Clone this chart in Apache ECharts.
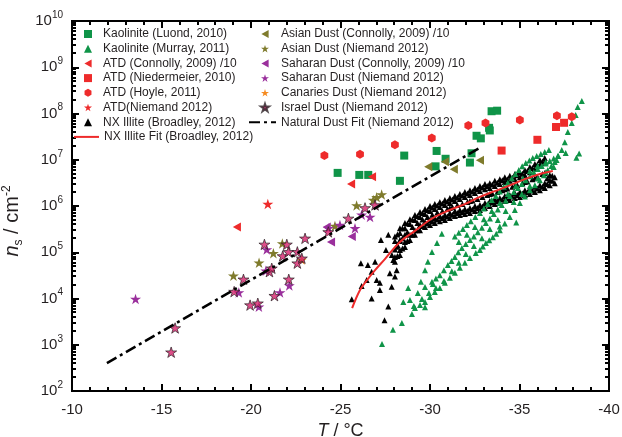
<!DOCTYPE html>
<html><head><meta charset="utf-8">
<script src="https://cdn.jsdelivr.net/npm/echarts@6/dist/echarts.min.js"></script>
<style>html,body{margin:0;padding:0;background:#fff}#wrap{position:relative;width:622px;height:437px}#axes,#plot{position:absolute;left:0;top:0;width:622px;height:437px}</style>
</head><body><div id="wrap"><div id="axes"></div><div id="plot"></div></div>
<script>
// ---------- data: [T (°C), ns (cm^-2)] ----------
const kaoliniteLuond = [[-24.84,5.2e6],[-26.05,4.7e6],[-26.55,4.7e6],[-28.32,3.5e6],[-28.56,1.23e7],[-30.37,1.55e7],[-30.31,7.2e6],[-30.87,1.05e7],[-32.23,8.7e6],[-32.32,1.38e7],[-32.60,3.3e7],[-32.84,2.9e7],[-33.30,4.9e7],[-33.34,4.3e7],[-33.44,1.12e8],[-33.75,1.15e8]];
const kaoliniteMurray = [
 [-27.32,1.04e3],[-27.93,2.1e3],[-28.43,2.95e3],[-28.99,4.6e3],[-29.44,7.2e3],[-30.00,1.08e4],[-30.55,1.69e4],[-31.11,2.8e4],[-31.67,4.6e4],[-32.23,7.5e4],[-32.79,1.12e5],[-33.12,1.58e5],[-33.51,2.1e5],[-33.90,3.0e5],[-34.46,5.8e5],[-35.02,1.16e6],[-35.58,2.2e6],[-36.14,3.6e6],[-36.58,6.0e6],[-36.97,8.9e6],[-37.36,1.63e7],[-37.53,2.4e7],[-37.70,4.0e7],[-37.92,6.2e7],[-38.14,9.3e7],[-38.25,1.38e8],[-38.48,1.86e8],
 [-29.16,6.2e3],[-29.72,8.4e3],[-30.27,1.38e4],[-30.83,2.2e4],[-31.39,3.6e4],[-31.95,5.9e4],[-32.56,9.6e4],
 [-32.95,1.33e5],[-33.31,1.82e5],[-33.70,2.5e5],[-34.18,4.2e5],[-34.74,8.2e5],[-35.30,1.6e6],[-35.86,2.8e6],[-36.36,4.6e6],[-36.78,7.3e6],[-37.17,1.2e7],
 [-28.88,9.3e3],[-29.32,1.32e4],[-29.72,1.77e4],[-30.11,2.3e4],[-30.55,3.2e4],[-31.00,5.3e4],[-31.39,7.9e4],[-31.78,1.24e5],[-32.23,1.84e5],[-32.67,2.7e5],[-33.12,4.3e5],[-33.57,6.7e5],[-34.01,1.05e6],[-34.46,1.64e6],[-34.91,2.45e6],[-35.35,3.6e6],[-35.80,5.4e6],[-36.24,7.3e6],[-36.69,9.4e6],[-37.14,1.21e7],[-37.58,1.40e7],
 [-30.33,2.7e4],[-30.78,4.1e4],[-31.20,6.5e4],[-31.58,1.0e5],[-32.00,1.5e5],[-32.45,2.2e5],[-32.90,3.4e5],[-33.35,5.4e5],[-33.79,8.4e5],[-34.23,1.3e6],[-34.68,2.0e6],[-35.13,3.0e6],[-35.58,4.4e6],[-36.02,6.3e6],[-36.47,8.3e6],[-36.91,1.07e7],
 [-29.10,6.9e3],[-29.55,9.7e3],[-29.94,1.32e4],[-30.33,1.69e4],[-30.78,2.4e4],[-31.22,3.9e4],[-31.61,5.9e4],[-32.00,9.2e4],[-32.45,1.36e5],[-32.90,2.0e5],[-33.34,3.2e5],[-33.79,5.0e5],[-34.23,7.8e5],[-34.68,1.22e6],[-35.13,1.82e6],[-35.58,2.7e6],[-36.02,4.0e6],[-36.47,5.4e6],[-36.91,7.0e6],
 [-29.49,2.3e4],[-29.72,4.1e4],[-29.88,6.2e4],[-30.11,1.01e5],[-30.39,1.58e5],[-30.66,2.5e5],
 [-31.39,2.2e5],[-31.84,3.2e5],[-32.28,4.7e5],[-32.79,7.1e5],[-33.23,1.10e6],[-33.68,1.64e6],[-34.12,2.6e6],[-34.57,4.0e6],[-34.96,6.0e6],[-35.35,8.5e6],[-35.74,1.09e7],[-36.19,1.33e7],[-36.64,1.63e7],
 [-31.61,2.65e5],[-32.06,3.9e5],[-32.53,5.8e5],[-33.01,8.8e5],[-33.45,1.34e6],[-33.90,2.05e6],[-34.35,3.2e6],[-34.77,4.9e6],[-35.15,7.2e6],[-35.55,9.6e6],[-35.96,1.2e7],[-36.41,1.47e7],
 [-31.61,1.67e5],[-32.06,2.4e5],[-32.51,3.5e5],[-33.01,5.2e5],[-33.45,7.8e5],[-33.90,1.16e6],[-34.35,1.82e6],[-34.79,2.7e6],[-35.19,4.0e6],[-35.58,5.7e6],[-36.02,7.3e6],[-36.47,8.9e6],
 [-28.51,8.4e3],[-28.78,1.69e4],[-30.16,2.05e4],[-29.72,6.5e3],[-33.90,3.6e5],[-34.82,4.4e5],[-37.07,9.9e6],[-38.33,1.36e7],[-38.18,1.10e7]
];
const atdConnolly = [[-19.21,3.5e5],[-25.59,3.0e6],[-26.76,4.3e6]];
const atdNiedermeier = [[-34.00,1.58e7],[-36.00,2.7e7],[-37.04,5.1e7],[-37.49,6.3e7]];
const atdHoyle = [[-24.10,1.23e7],[-26.09,1.32e7],[-28.04,2.1e7],[-30.10,2.95e7],[-32.14,5.5e7],[-33.10,6.2e7],[-35.02,7.2e7],[-37.09,8.9e7],[-37.92,8.5e7]];
const atdNiemand = [[-20.94,1.1e6]];
const nxIllite = [
 [-25.63,9.6e3],[-26.14,5.8e4],[-26.18,1.86e4],[-26.46,2.5e4],[-26.74,3.8e4],[-26.74,1.0e4],[-27.02,2.5e4],[-27.20,1.53e4],[-27.20,2.2e4],[-27.26,1.84e5],[-27.46,3.4e3],[-27.67,6.7e3],[-27.67,2.4e5],[-27.76,3.5e4],[-27.86,1.8e4],[-27.95,6.8e4],[-28.04,3.0e4],[-28.14,1.32e5],[-28.14,4.1e4],[-28.32,1.84e5],[-27.54,1.12e5],[-26.93,6.2e4],[-26.53,5.3e4],[-27.87,8.7e4],
 [-28.04,2.2e5],[-28.04,1.75e5],[-28.04,7.9e4],[-28.04,6.2e4],
 [-28.32,3.3e5],[-28.32,2.6e5],[-28.32,1.12e5],[-28.32,8.7e4],
 [-28.60,4.3e5],[-28.60,3.3e5],[-28.60,1.67e5],[-28.60,1.30e5],
 [-28.88,5.2e5],[-28.88,4.1e5],[-28.88,2.4e5],[-28.88,1.84e5],
 [-29.16,6.4e5],[-29.16,5.0e5],[-29.16,3.0e5],[-29.16,2.4e5],
 [-29.44,7.4e5],[-29.44,5.8e5],[-29.44,3.9e5],[-29.44,3.0e5],
 [-29.72,8.6e5],[-29.72,6.7e5],[-29.72,4.5e5],[-29.72,3.5e5],
 [-30.00,1.0e6],[-30.00,7.8e5],[-30.00,5.0e5],[-30.00,3.9e5],
 [-30.27,1.10e6],[-30.27,8.6e5],[-30.27,5.5e5],[-30.27,4.3e5],
 [-30.55,1.22e6],[-30.55,9.5e5],[-30.55,6.1e5],[-30.55,4.7e5],
 [-30.83,1.35e6],[-30.83,1.05e6],[-30.83,6.4e5],[-30.83,5.0e5],
 [-31.11,1.49e6],[-31.11,1.16e6],[-31.11,7.1e5],[-31.11,5.5e5],
 [-31.39,1.64e6],[-31.39,1.28e6],[-31.39,7.8e5],[-31.39,6.1e5],
 [-31.67,1.82e6],[-31.67,1.42e6],[-31.67,8.2e5],[-31.67,6.4e5],
 [-31.95,2.0e6],[-31.95,1.57e6],[-31.95,8.6e5],[-31.95,6.7e5],
 [-32.23,2.2e6],[-32.23,1.73e6],[-32.23,9.1e5],[-32.23,7.1e5],
 [-32.51,2.45e6],[-32.51,1.91e6],[-32.51,1.0e6],[-32.51,7.8e5],
 [-32.79,2.7e6],[-32.79,2.1e6],[-32.79,1.05e6],[-32.79,8.2e5],
 [-33.07,3.0e6],[-33.07,2.3e6],[-33.07,1.16e6],[-33.07,9.1e5],
 [-33.34,3.1e6],[-33.34,2.45e6],[-33.34,1.28e6],[-33.34,1.0e6],
 [-33.62,3.5e6],[-33.62,2.7e6],[-33.62,1.42e6],[-33.62,1.10e6],
 [-33.90,3.8e6],[-33.90,3.0e6],[-33.90,1.49e6],[-33.90,1.16e6],
 [-34.18,4.2e6],[-34.18,3.3e6],[-34.18,1.64e6],[-34.18,1.28e6],
 [-34.46,4.5e6],[-34.46,3.5e6],[-34.46,1.73e6],[-34.46,1.35e6],
 [-34.74,4.9e6],[-34.74,3.8e6],[-34.74,1.91e6],[-34.74,1.49e6],
 [-35.02,5.4e6],[-35.02,4.2e6],[-35.02,2.0e6],[-35.02,1.57e6],
 [-35.30,6.0e6],[-35.30,4.7e6],[-35.30,2.2e6],[-35.30,1.73e6],
 [-35.58,7.0e6],[-35.58,5.4e6],[-35.58,2.3e6],[-35.58,1.82e6],
 [-35.86,8.1e6],[-35.86,6.3e6],[-35.86,2.6e6],[-35.86,2.0e6],
 [-36.14,9.9e6],[-36.14,7.7e6],[-36.14,2.8e6],[-36.14,2.2e6],
 [-36.41,1.09e7],[-36.41,8.5e6],[-36.41,3.1e6],[-36.41,2.45e6],
 [-36.69,4.7e6],[-36.69,3.6e6],[-36.69,2.8e6],
 [-36.97,4.2e6],[-36.97,3.1e6],
 [-28.04,1.15e5],[-28.32,1.75e5],[-28.60,2.4e5],[-31.11,9.1e5],[-32.23,1.28e6],[-33.34,1.82e6],[-34.18,2.3e6],[-34.74,2.7e6],[-35.30,3.3e6],[-35.86,4.0e6],[-36.41,5.2e6],
 [-28.18,2.42e5],[-28.18,1.44e5],[-28.18,8.3e4],
 [-28.46,3.3e5],[-28.46,2.0e5],[-28.46,1.21e5],
 [-28.74,4.2e5],[-28.74,2.7e5],[-28.74,1.75e5],
 [-29.02,5.1e5],[-29.02,3.5e5],[-29.02,2.4e5],
 [-29.30,6.1e5],[-29.30,4.3e5],[-29.30,3.0e5],
 [-29.58,7.1e5],[-29.58,5.1e5],[-29.58,3.7e5],
 [-29.86,8.2e5],[-29.86,5.8e5],[-29.86,4.2e5],
 [-30.13,9.3e5],[-30.13,6.5e5],[-30.13,4.6e5],
 [-30.41,1.03e6],[-30.41,7.2e5],[-30.41,5.1e5],
 [-30.69,1.13e6],[-30.69,7.8e5],[-30.69,5.5e5],
 [-30.97,1.25e6],[-30.97,8.6e5],[-30.97,5.9e5],
 [-31.25,1.38e6],[-31.25,9.5e5],[-31.25,6.5e5],
 [-31.53,1.53e6],[-31.53,1.05e6],[-31.53,7.1e5],
 [-31.81,1.69e6],[-31.81,1.10e6],[-31.81,7.4e5],
 [-32.09,1.86e6],[-32.09,1.22e6],[-32.09,7.8e5],
 [-32.37,2.06e6],[-32.37,1.32e6],[-32.37,8.4e5],
 [-32.65,2.27e6],[-32.65,1.42e6],[-32.65,9.1e5],
 [-32.93,2.51e6],[-32.93,1.57e6],[-32.93,9.8e5],
 [-33.20,2.7e6],[-33.20,1.73e6],[-33.20,1.08e6],
 [-33.48,2.9e6],[-33.48,1.86e6],[-33.48,1.19e6],
 [-33.76,3.2e6],[-33.76,2.0e6],[-33.76,1.28e6],
 [-34.04,3.6e6],[-34.04,2.2e6],[-34.04,1.38e6],
 [-34.32,3.8e6],[-34.32,2.39e6],[-34.32,1.49e6],
 [-34.60,4.1e6],[-34.60,2.6e6],[-34.60,1.60e6],
 [-34.88,4.6e6],[-34.88,2.8e6],[-34.88,1.73e6],
 [-35.16,5.0e6],[-35.16,3.1e6],[-35.16,1.86e6],
 [-35.44,5.7e6],[-35.44,3.4e6],[-35.44,2.0e6],
 [-35.72,6.6e6],[-35.72,3.8e6],[-35.72,2.15e6],
 [-36.00,7.9e6],[-36.00,4.3e6],[-36.00,2.39e6],
 [-36.28,9.2e6],[-36.28,4.9e6],[-36.28,2.6e6],
 [-36.55,4.0e6],[-36.55,3.0e6],
 [-36.83,4.5e6],[-36.83,3.5e6]
];
const nxIlliteFit = [[-25.65,6.2e3],[-26.09,1.53e4],[-26.48,2.5e4],[-26.93,4.1e4],[-27.48,7.1e4],[-28.32,1.67e5],[-29.16,2.9e5],[-30.16,5.5e5],[-31.11,8.2e5],[-31.95,1.10e6],[-32.79,1.57e6],[-33.62,2.1e6],[-34.46,2.8e6],[-35.30,3.8e6],[-36.14,4.9e6],[-36.86,5.7e6]];
const asianConnolly = [[-29.90,7.1e6],[-30.83,9.1e6],[-31.33,6.2e6],[-32.79,9.8e6]];
const asianNiemand = [[-19.02,3.1e4],[-20.45,5.9e4],[-21.25,9.5e4],[-21.75,1.55e5],[-24.69,3.7e5],[-25.90,1.02e6],[-26.83,1.35e6],[-27.02,1.55e6],[-27.30,1.78e6]];
const saharanConnolly = [[-24.23,3.5e5],[-24.47,1.66e5],[-25.63,2.2e5]];
const saharanNiemand = [[-13.55,9.8e3],[-19.32,1.35e4],[-20.44,6.6e3],[-20.88,1.15e5],[-20.83,4.0e4],[-21.62,1.35e4],[-22.14,1.9e4],[-24.32,3.3e5],[-24.97,3.9e5],[-25.81,3.3e5],[-26.18,6.5e5],[-26.65,5.8e5]];
const canariesNiemand = [[-22.84,6.8e4]];
const israelNiemand = [[-15.76,2.3e3],[-15.54,6.9e2],[-19.06,1.41e4],[-19.58,2.6e4],[-19.95,7.2e3],[-20.38,7.9e3],[-20.75,1.48e5],[-21.03,3.8e4],[-21.16,4.5e4],[-21.31,1.15e4],[-21.77,8.3e4],[-22.00,1.48e5],[-22.09,1.02e5],[-22.11,2.6e4],[-22.59,1.02e5],[-22.59,5.8e4],[-22.84,7.4e4],[-23.02,2.0e5],[-24.32,2.75e5],[-25.44,5.4e5],[-26.37,9.1e5],[-26.93,1.05e6]];
const naturalDustFit = [[-11.95,4.0e2],[-32.79,1.82e7]];
// axis tick values
const xTicks = [-10,-15,-20,-25,-30,-35,-40];
const yDecades = [2,3,4,5,6,7,8,9,10];
const minorMantissas = [2,3,4,5,6,7,8,9];

// ---------- styling ----------
const FONT = 'Liberation Sans, Arial, sans-serif';
const TXT = '#231f20';
const GREEN = '#0f9448', RED = '#ee2b2b', OLIVE = '#7f7b2c', PURPLE = '#9a2f9c', ORANGE = '#f58a1f', PINK = '#d6226c';
const STAR = 'path://M50,0 L61.2,34.5 L97.6,34.5 L68.2,55.9 L79.4,90.5 L50,69.1 L20.6,90.5 L31.8,55.9 L2.4,34.5 L38.8,34.5 Z';
const HEX = 'path://M50,0 L93.3,25 L93.3,75 L50,100 L6.7,75 L6.7,25 Z';
const LTRI = 'path://M0,50 L90,0 L90,100 Z';
const GRID = { left: 72, right: 13, top: 21, bottom: 46, outerBoundsMode: 'none' };

// ================= layer 1: frame, axes, ticks, labels =================
const minorTickItems = [];
yDecades.forEach(e => { if (e < 10) minorMantissas.forEach(m => minorTickItems.push([-25, m * Math.pow(10, e)])); });
function minorTickSeries(side) {
  return { type: 'custom', data: minorTickItems, silent: true, clip: false, z: 6,
    renderItem: function (params, api) {
      const cs = params.coordSys;
      const py = Math.round(api.coord([-25, api.value(1)])[1]);
      const x = side === 'left' ? cs.x : cs.x + cs.width - 4;
      return { type: 'rect', shape: { x: x, y: py - 1, width: 4, height: 2 }, style: { fill: '#000' } };
    } };
}
const axL = { show: true, onZero: false, lineStyle: { color: '#000', width: 2 } };
const axT = { show: true, inside: true, length: 7, lineStyle: { color: '#000', width: 2 } };
const xMinor = { show: true, splitNumber: 5, length: 4, lineStyle: { color: '#000', width: 2 } };
const axesOption = {
  animation: false,
  backgroundColor: '#fff',
  grid: Object.assign({ show: true, borderColor: '#000', borderWidth: 2, backgroundColor: 'transparent' }, GRID),
  xAxis: [
    { type: 'value', inverse: true, min: -40, max: -10, interval: 5, position: 'bottom', splitLine: { show: false },
      axisLine: axL, axisTick: axT, minorTick: xMinor,
      axisLabel: { margin: 11, fontSize: 15, color: TXT, fontFamily: FONT, formatter: v => xTicks.indexOf(v) >= 0 ? String(v) : '' },
      name: '{i|T} / °C', nameLocation: 'middle', nameGap: 27,
      nameTextStyle: { fontSize: 18, color: TXT, fontFamily: FONT, rich: { i: { fontSize: 18, fontStyle: 'italic', color: TXT, fontFamily: FONT } } } },
    { type: 'value', inverse: true, min: -40, max: -10, interval: 5, position: 'top', splitLine: { show: false },
      axisLine: axL, axisTick: axT, minorTick: xMinor, axisLabel: { show: false } }
  ],
  yAxis: [
    { type: 'log', min: 100, max: 1e10, position: 'left', splitLine: { show: false }, axisLine: axL, axisTick: axT,
      axisLabel: { margin: 9, color: TXT, fontFamily: FONT,
        formatter: v => { const e = Math.round(Math.log10(v)); return yDecades.indexOf(e) >= 0 ? '{b|10}{s|' + e + '}' : ''; },
        rich: { b: { fontSize: 15, lineHeight: 22, color: TXT, fontFamily: FONT }, s: { fontSize: 10, lineHeight: 12, verticalAlign: 'top', color: TXT, fontFamily: FONT } } },
      name: '{i|n}{sub|s}{t| / cm}{sup|-2}', nameLocation: 'middle', nameGap: 36, nameRotate: 90,
      nameTextStyle: { color: TXT, fontFamily: FONT, fontSize: 19, padding: [0, 30, 0, 0],
        rich: { i: { fontSize: 20, fontStyle: 'italic', lineHeight: 24, color: TXT, fontFamily: FONT },
                sub: { fontSize: 12, lineHeight: 13, verticalAlign: 'bottom', color: TXT, fontFamily: FONT },
                t: { fontSize: 20, lineHeight: 24, color: TXT, fontFamily: FONT },
                sup: { fontSize: 12, lineHeight: 13, verticalAlign: 'top', color: TXT, fontFamily: FONT } } } },
    { type: 'log', min: 100, max: 1e10, position: 'right', splitLine: { show: false }, axisLine: axL, axisTick: axT, axisLabel: { show: false } }
  ],
  series: [minorTickSeries('left'), minorTickSeries('right')]
};
const axesChart = echarts.init(document.getElementById('axes'), null, { renderer: 'canvas' });
axesChart.setOption(axesOption);

// ================= layer 2: data and legend =================
function sc(name, data, symbol, size, color, extra) {
  return Object.assign({ name, type: 'scatter', data, symbol, symbolSize: size, symbolKeepAspect: true,
    itemStyle: { color, opacity: 1 }, emphasis: { disabled: true } }, extra || {});
}
const legendText = { fontSize: 12, lineHeight: 14, color: TXT, fontFamily: FONT };
const legBase = { orient: 'vertical', itemHeight: 8, itemWidth: 8, itemGap: 0.7, selectedMode: false, padding: 0 };
const plotOption = {
  animation: false,
  backgroundColor: 'transparent',
  grid: GRID,
  legend: [
    Object.assign({}, legBase, { left: 84, top: 27, textStyle: Object.assign({ padding: [0, 0, 0, 6] }, legendText),
      data: ['Kaolinite (Luond, 2010)', 'Kaolinite (Murray, 2011)', 'ATD (Connolly, 2009) /10', 'ATD (Niedermeier, 2010)', 'ATD (Hoyle, 2011)', 'ATD(Niemand 2012)', 'NX Illite (Broadley, 2012)'] }),
    Object.assign({}, legBase, { left: 73, top: 129.9, itemWidth: 25, textStyle: legendText, itemStyle: { opacity: 0 },
      data: ['NX Illite Fit (Broadley, 2012)'] }),
    Object.assign({}, legBase, { left: 260, top: 27, textStyle: Object.assign({ padding: [0, 0, 0, 7] }, legendText),
      data: ['Asian Dust (Connolly, 2009) /10', 'Asian Dust (Niemand 2012)', 'Saharan Dust (Connolly, 2009) /10', 'Saharan Dust (Niemand 2012)', 'Canaries Dust (Niemand 2012)', 'Israel Dust (Niemand 2012)'] }),
    Object.assign({}, legBase, { left: 248, top: 115.2, itemWidth: 27, textStyle: legendText, itemStyle: { opacity: 0 },
      data: ['Natural Dust Fit (Niemand 2012)'] })
  ],
  xAxis: { type: 'value', show: false, inverse: true, min: -40, max: -10, interval: 5, splitLine: { show: false } },
  yAxis: { type: 'log', show: false, min: 100, max: 1e10, splitLine: { show: false } },
  series: [
    sc('NX Illite (Broadley, 2012)', nxIllite, 'triangle', 6, '#000', { z: 2 }),
    sc('Kaolinite (Luond, 2010)', kaoliniteLuond, 'rect', 8, GREEN, { z: 2 }),
    sc('Kaolinite (Murray, 2011)', kaoliniteMurray, 'triangle', 6, GREEN, { z: 3 }),
    sc('ATD (Connolly, 2009) /10', atdConnolly, LTRI, 9, RED, { z: 3 }),
    sc('ATD (Niedermeier, 2010)', atdNiedermeier, 'rect', 8, RED, { z: 3 }),
    sc('ATD (Hoyle, 2011)', atdHoyle, HEX, 9, RED, { z: 3 }),
    sc('ATD(Niemand 2012)', atdNiemand, STAR, 11, RED, { z: 3 }),
    sc('Asian Dust (Connolly, 2009) /10', asianConnolly, LTRI, 9, OLIVE, { z: 3 }),
    sc('Asian Dust (Niemand 2012)', asianNiemand, STAR, 11, OLIVE, { z: 3 }),
    sc('Saharan Dust (Connolly, 2009) /10', saharanConnolly, LTRI, 9, PURPLE, { z: 3 }),
    sc('Saharan Dust (Niemand 2012)', saharanNiemand, STAR, 11, PURPLE, { z: 3 }),
    sc('Canaries Dust (Niemand 2012)', canariesNiemand, STAR, 10, ORANGE, { z: 3 }),
    sc('Israel Dust (Niemand 2012)', israelNiemand, STAR, 11, PINK, { z: 4, itemStyle: { color: PINK, borderColor: '#2b2226', borderWidth: 0.9 } }),
    { name: 'NX Illite Fit (Broadley, 2012)', type: 'line', data: nxIlliteFit, smooth: 0.4, symbol: 'none', z: 5,
      lineStyle: { color: RED, width: 2 }, itemStyle: { color: RED }, emphasis: { disabled: true } },
    { name: 'Natural Dust Fit (Niemand 2012)', type: 'line', data: naturalDustFit, symbol: 'none', z: 5,
      lineStyle: { color: '#000', width: 2.5, type: [11, 4, 3, 4] }, itemStyle: { color: '#000' }, emphasis: { disabled: true } }
  ]
};
const plotChart = echarts.init(document.getElementById('plot'), null, { renderer: 'canvas' });
plotChart.setOption(plotOption);
setTimeout(function () {
  axesChart.getZr().refreshImmediately();
  plotChart.getZr().refreshImmediately();
}, 60);
</script></body></html>
